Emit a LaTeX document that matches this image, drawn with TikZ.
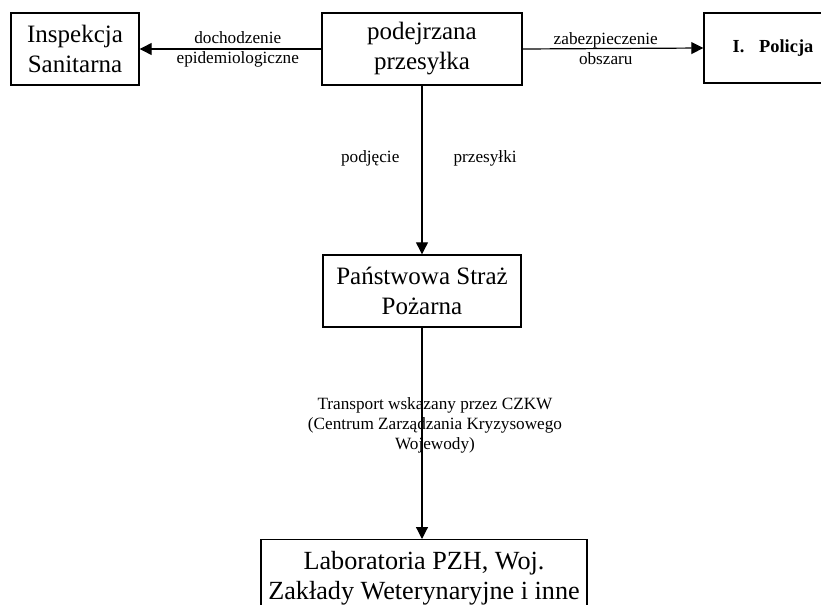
\documentclass[tikz,border=0pt]{standalone}
\usepackage{fontspec}
\setmainfont{Liberation Serif}
\usetikzlibrary{arrows.meta,positioning}

\begin{document}
\begin{tikzpicture}[x=0.5pt,y=-0.5pt,
    box/.style={draw,line width=0.7pt,align=center,inner sep=0pt,
        font=\fontsize{12.5}{15}\selectfont},
    lbl/.style={align=center,inner sep=1pt,
        font=\fontsize{8.6}{10}\selectfont},
    arr/.style={-{Triangle[length=6pt,width=6pt]},line width=0.6pt}]

    \clip (0,0) rectangle (821,605);

    \node[box,minimum width=64pt,minimum height=36pt] (insp) at (75,49)
        {Inspekcja\\Sanitarna};
    \node[box,minimum width=100pt,minimum height=36pt] (przes) at (422,49)
        {podejrzana\\przesyłka};
    \node[box,minimum width=69pt,minimum height=35pt,
        font=\fontsize{9.2}{11}\selectfont\bfseries] (pol) at (773,48)
        {I.\hspace{0.8em}Policja};
    \node[box,minimum width=99pt,minimum height=36pt] (psp) at (422,291)
        {Państwowa Straż\\Pożarna};
    \node[box,anchor=north,minimum width=163pt,inner ysep=6pt,
        font=\fontsize{13.1}{15}\selectfont] (lab) at (424,539)
        {Laboratoria PZH, Woj.\\Zakłady Weterynaryjne i inne\\ };

    % arrows from the parcel
    \draw[arr] (przes.west) -- (insp.east)
        node[lbl,pos=0.46] {dochodzenie\\epidemiologiczne};
    \draw[arr] (przes.east) -- (pol.west)
        node[lbl,pos=0.46] {zabezpieczenie\\obszaru};
    \draw[arr] (przes.south) -- (psp.north)
        node[lbl,pos=0.43,left=10pt] {podjęcie}
        node[lbl,pos=0.43,right=14.5pt] {przesyłki};

    % transport to the labs
    \draw[arr] (psp.south) -- (lab.north -| psp.south)
        node[lbl,pos=0.46,xshift=6.5pt]
        {Transport wskazany przez CZKW\\(Centrum Zarządzania Kryzysowego\\Wojewody)};

\end{tikzpicture}
\end{document}
